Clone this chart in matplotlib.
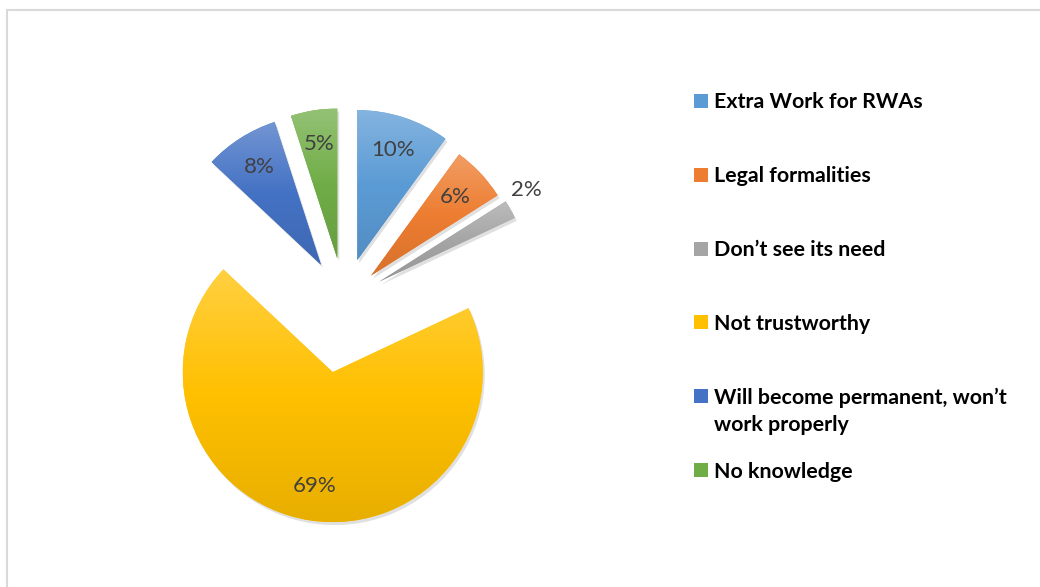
import math
import numpy as np
import matplotlib
matplotlib.use('Agg')
import matplotlib.pyplot as plt
from matplotlib.colors import LinearSegmentedColormap, to_rgb
from matplotlib.patches import Rectangle, Wedge

labels = ['Extra Work for RWAs', 'Legal formalities', 'Don\u2019t see its need',
          'Not trustworthy', 'Will become permanent, won\u2019t\nwork properly',
          'No knowledge']
shares = [10, 6, 2, 69, 8, 5]
colors = ['#5B9BD5', '#ED7D31', '#A5A5A5', '#FFC000', '#4472C4', '#70AD47']
explode = [43, 37, 40, 72, 43, 43]

plt.rcParams['font.family'] = ['Lato', 'DejaVu Sans']

# figure in pixel units: 1 data unit = 1 px
fig = plt.figure(figsize=(10.4, 5.87), dpi=100)
ax = fig.add_axes([0, 0, 1, 1])

wedges, texts, autotexts = ax.pie(
    shares, colors=colors, explode=explode, center=(344, 286), radius=150,
    startangle=90, counterclock=False, autopct='%.0f%%', pctdistance=0.77,
    textprops=dict(color='#404040', fontsize=16))


def shade(c, f):
    r, g, b = to_rgb(c)
    if f > 0:
        return (r + (1 - r) * f, g + (1 - g) * f, b + (1 - b) * f)
    return (r * (1 + f), g * (1 + f), b * (1 + f))


grad = np.linspace(0, 1, 256).reshape(-1, 1)
for w, c in zip(wedges, colors):
    # soft shadow
    sh = Wedge((w.center[0] + 2, w.center[1] - 3), w.r, w.theta1, w.theta2,
               facecolor='black', alpha=0.12, edgecolor='none', zorder=0.5)
    ax.add_patch(sh)
    bb = w.get_path().get_extents()
    cmap = LinearSegmentedColormap.from_list('g', [shade(c, 0.25), to_rgb(c), shade(c, -0.09)])
    im = ax.imshow(grad, cmap=cmap, extent=[bb.x0, bb.x1, bb.y0, bb.y1],
                   origin='upper', aspect='auto', zorder=1.5, interpolation='bilinear')
    im.set_clip_path(w)
    w.set_edgecolor('none')
    w.set_zorder(1)

for t in autotexts:
    t.set_zorder(3)

# small slice label goes outside, a bit above the slice
w = wedges[2]
tm = math.radians((w.theta1 + w.theta2) / 2)
autotexts[2].set_position((w.center[0] + 1.14 * w.r * math.cos(tm) - 3,
                           w.center[1] + 1.14 * w.r * math.sin(tm) + 9))

ax.set_xlim(0, 1040)
ax.set_ylim(0, 587)
ax.set_aspect('auto')
ax.axis('off')

# legend
for i, (lab, c) in enumerate(zip(labels, colors)):
    yc = 587 - (101 + 73.8 * i)
    ax.add_patch(Rectangle((694, yc - 7), 14, 14, facecolor=c, edgecolor='none'))
    ax.text(714, yc + 8.5, lab, fontsize=15.4, fontweight='bold', color='black',
            va='top', ha='left', linespacing=1.45)

# chart area border
ax.add_patch(Rectangle((7, -20), 1100, 597, fill=False, edgecolor='#D9D9D9',
                       linewidth=1.5, clip_on=False))

fig.savefig('out.png', dpi=100)
